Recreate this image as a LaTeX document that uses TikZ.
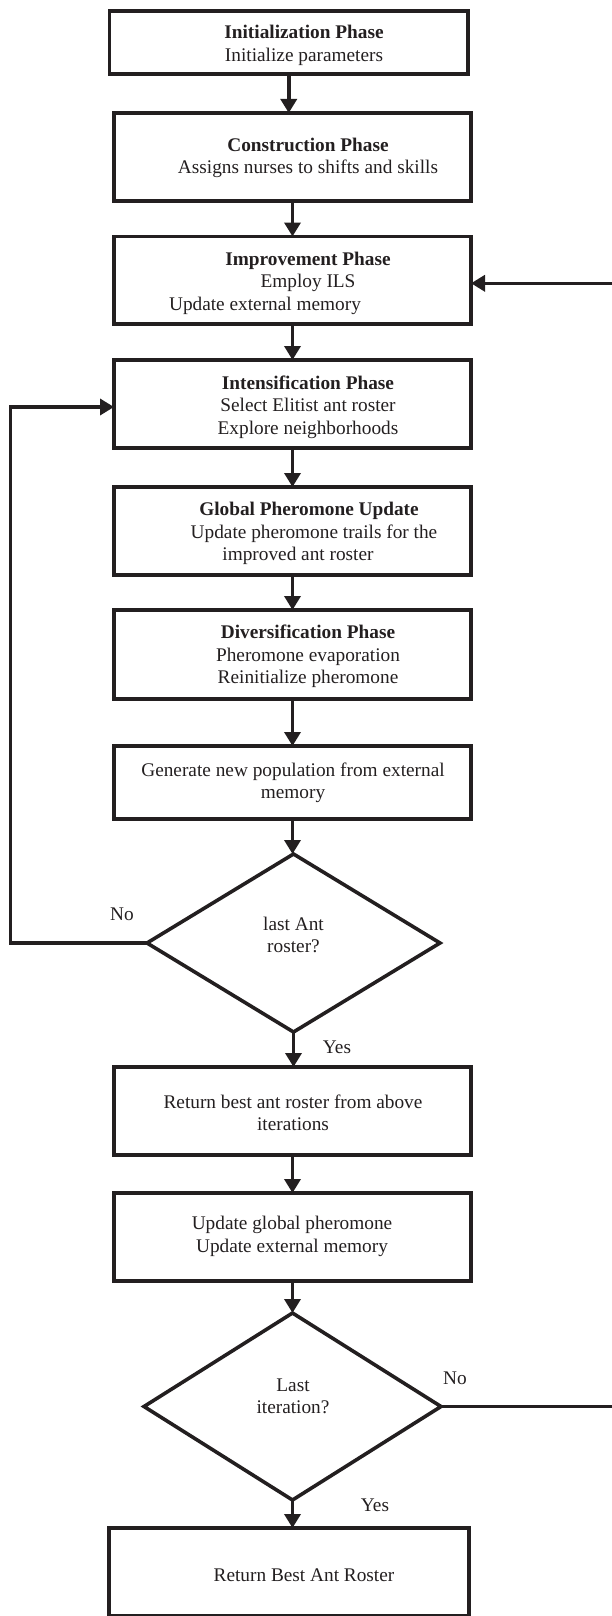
\documentclass[tikz,border=0pt]{standalone}
\usepackage{fontspec}
\setmainfont{Liberation Serif}
\usetikzlibrary{shapes.geometric,arrows.meta}
\definecolor{ink}{HTML}{231F20}
\tikzset{
  box/.style={draw=ink, line width=3.6pt, inner sep=0pt, outer sep=0pt},
  dia/.style={draw=ink, diamond, line width=3.6pt, inner sep=0pt, outer sep=0pt},
  txt/.style={font=\fontsize{19.3}{22.4}\selectfont, align=center, text=ink, inner sep=0pt},
  conn/.style={draw=ink, line width=3.6pt, -{Triangle[width=16pt,length=14pt]}},
  plainline/.style={draw=ink, line width=3.6pt}
}
\begin{document}
\begin{tikzpicture}[x=1pt,y=-1pt]
\useasboundingbox (0,0) rectangle (612,1616);
% boxes
\node[box, minimum width=358.5pt, minimum height=62.7pt] (b1) at (288.75,42.65) {};
\node[box, minimum width=357pt, minimum height=88pt] (b2) at (292.5,157) {};
\node[box, minimum width=357pt, minimum height=87.5pt] (b3) at (292.5,280.25) {};
\node[box, minimum width=357pt, minimum height=88pt] (b4) at (292.5,404) {};
\node[box, minimum width=357pt, minimum height=88pt] (b5) at (292.5,531) {};
\node[box, minimum width=357pt, minimum height=89pt] (b6) at (292.5,654.5) {};
\node[box, minimum width=357pt, minimum height=73pt] (b7) at (292.5,782.5) {};
\node[dia, minimum width=293pt, minimum height=178pt] (d1) at (293.5,943) {};
\node[box, minimum width=357pt, minimum height=88pt] (b8) at (292.5,1111) {};
\node[box, minimum width=357pt, minimum height=88pt] (b9) at (292.5,1237) {};
\node[dia, minimum width=297pt, minimum height=187pt] (d2) at (292.5,1406.5) {};
\node[box, minimum width=360pt, minimum height=88pt] (b10) at (289,1572) {};
% texts
\node[txt] (t1) at (304,45.3) {\textbf{Initialization Phase}\\Initialize parameters};
\node[txt] (t2) at (308,158) {\textbf{Construction Phase}\\Assigns nurses to shifts and skills};
\node[txt] (t3) at (308,283.3) {\textbf{Improvement Phase}\\Employ ILS\\Update external memory\hspace*{86pt}};
\node[txt] (t4) at (308,407) {\textbf{Intensification Phase}\\Select Elitist ant roster\\Explore neighborhoods};
\node[txt] (t5) at (309,533.7) {\textbf{Global Pheromone Update}\\\hspace*{10pt}Update pheromone trails for the\\improved ant roster\hspace*{22pt}};
\node[txt] (t6) at (308,656.5) {\textbf{Diversification Phase}\\Pheromone evaporation\\Reinitialize pheromone};
\node[txt] (t7) at (293,783) {Generate new population from external\\memory};
\node[txt] (td1) at (293.5,935) {last Ant\\roster?};
\node[txt] (t8) at (293,1112.7) {Return best ant roster from above\\iterations};
\node[txt] (t9) at (292,1236.4) {Update global pheromone\\Update external memory};
\node[txt] (td2) at (293,1396) {Last\\iteration?};
\node[txt] (t10) at (304,1575) {Return Best Ant Roster};
% labels
\node[txt] (no1) at (122,914) {No};
\node[txt] (yes1) at (337,1047) {Yes};
\node[txt] (no2) at (455,1378) {No};
\node[txt] (yes2) at (375,1505) {Yes};
% connectors
\draw[conn] (b1.south) -- (b1.south |- b2.north);
\draw[conn] (b2.south) -- (b3.north);
\draw[conn] (b3.south) -- (b4.north);
\draw[conn] (b4.south) -- (b5.north);
\draw[conn] (b5.south) -- (b6.north);
\draw[conn] (b6.south) -- (b7.north);
\draw[conn] (b7.south) -- (b7.south |- d1.north);
\draw[conn] (d1.south) -- (d1.south |- b8.north);
\draw[conn] (b8.south) -- (b9.north);
\draw[conn] (b9.south) -- (d2.north);
\draw[conn] (d2.south) -- (d2.south |- b10.north);
% left loop
\coordinate (lp) at (10.3,407);
\draw[conn] (d1.west) -| (lp) -- (lp -| b4.west);
% right loop (vertical part outside the picture)
\coordinate (rA) at (612,1406.5);
\coordinate (rB) at (612,283.3);
\draw[plainline] (d2.east) -- (d2.east -| rA);
\draw[conn] (rB) -- (rB -| b3.east);
\end{tikzpicture}
\end{document}
